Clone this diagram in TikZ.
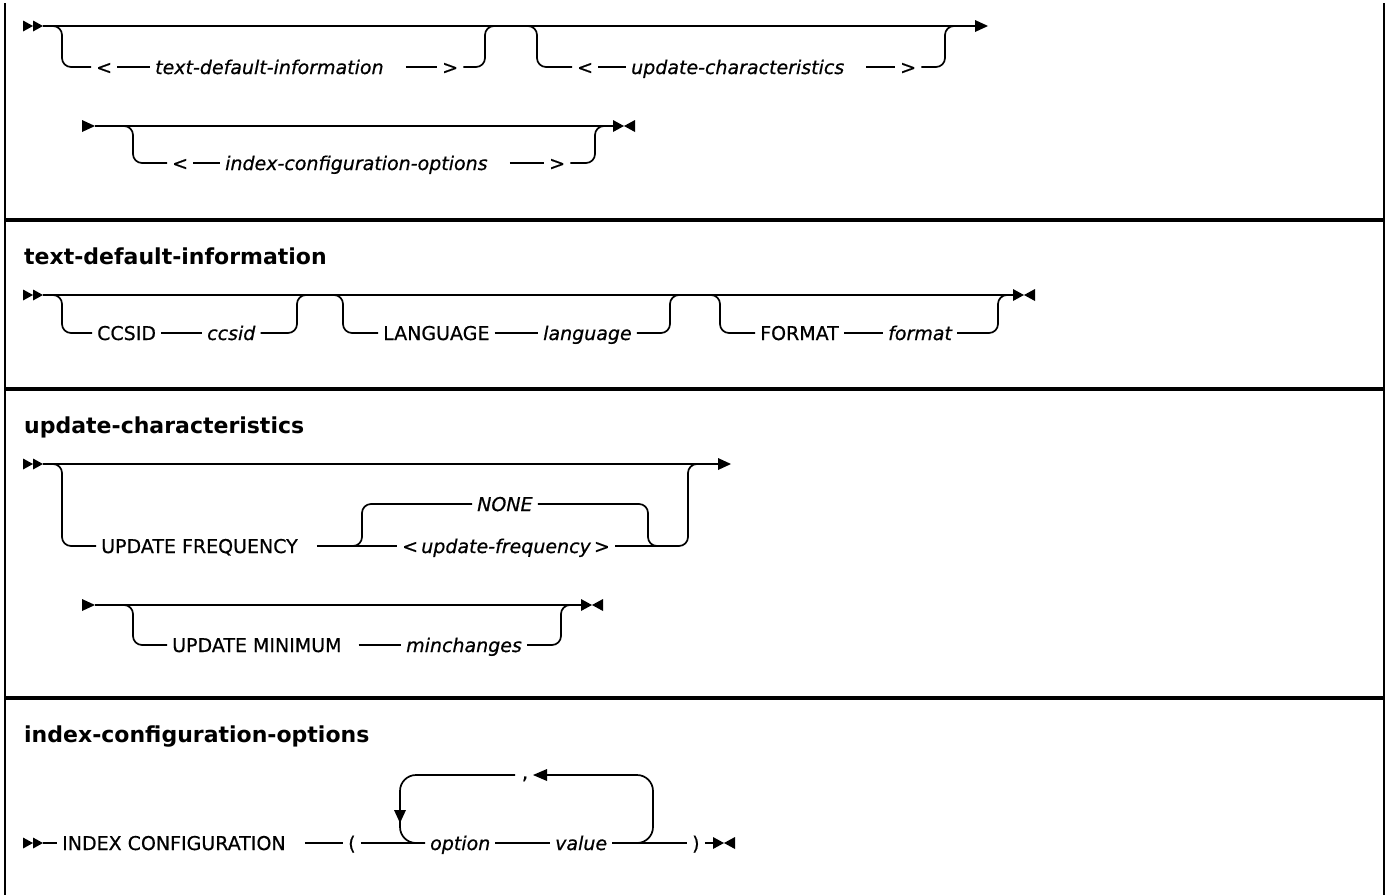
\documentclass[tikz,border=0pt]{standalone}
\usepackage{fontspec}
\setmainfont{DejaVu Sans}
\newfontfamily\rrfont[FakeBold=0.6]{DejaVu Sans}
\newcommand\rrstart[2]{\fill (#1,#2-5.5) -- (#1+10,#2) -- (#1,#2+5.5) -- cycle; \fill (#1+10,#2-5.5) -- (#1+20,#2) -- (#1+10,#2+5.5) -- cycle;}
\newcommand\rrtri[2]{\fill (#1,#2-6) -- (#1+13,#2) -- (#1,#2+6) -- cycle;}
\newcommand\rrend[2]{\fill (#1,#2-6) -- (#1+11,#2) -- (#1,#2+6) -- cycle; \fill (#1+22,#2-6) -- (#1+11,#2) -- (#1+22,#2+6) -- cycle;}
\newcommand\rrleft[2]{\fill (#1,#2) -- (#1+14,#2-6) -- (#1+14,#2+6) -- cycle;}
\newcommand\rrdown[2]{\fill (#1,#2) -- (#1-6,#2-13) -- (#1+6,#2-13) -- cycle;}
\begin{document}
\begin{tikzpicture}[x=1pt,y=-1pt,
  rail/.style={line width=1.7pt},
  rc/.style={rail,rounded corners=9pt},
  rcl/.style={rail,rounded corners=16pt},
  lbl/.style={font=\rrfont\fontsize{19}{22}\selectfont, inner xsep=5pt, inner ysep=0pt, text height=14pt, text depth=0pt, anchor=west},
  var/.style={lbl, font=\rrfont\fontsize{19}{22}\selectfont\itshape},
  hd/.style={font=\fontsize{22}{26}\selectfont\bfseries, anchor=base west, inner sep=0pt},
  sepline/.style={line width=3.5pt},
  frame/.style={line width=2.4pt}]
\useasboundingbox (0,0) rectangle (1389,895);
% frame
\coordinate (tl) at (5,3); \coordinate (bl) at (5,895);
\coordinate (tr) at (1384,3); \coordinate (br) at (1384,895);
\draw[frame] (tl) -- (bl);
\draw[frame] (tr) -- (br);
\coordinate (s1l) at (5,220); \coordinate (s1r) at (1384,220);
\coordinate (s2l) at (5,389); \coordinate (s2r) at (1384,389);
\coordinate (s3l) at (5,698); \coordinate (s3r) at (1384,698);
\draw[sepline] (s1l) -- (s1r);
\draw[sepline] (s2l) -- (s2r);
\draw[sepline] (s3l) -- (s3r);

% ===== Section 1 =====
\rrstart{23}{26}
\coordinate (m1a) at (43,26); \coordinate (m1b) at (975,26);
\draw[rail] (m1a) -- (m1b);
\rrtri{975}{26}
\node[lbl] (lt1) at (91,67) {\textless};
\node[var] (n1) at (150,67) {text-default-information\kern17pt};
\node[lbl] (gt1) at (437,67) {\textgreater};
\draw[rc] (52,26) -- (62,26) -- (62,67) -- (lt1.west);
\draw[rail] (lt1.east) -- (n1.west);
\draw[rail] (n1.east) -- (gt1.west);
\draw[rc] (gt1.east) -- (485,67) -- (485,26) -- (495,26);
\node[lbl] (lt2) at (572,67) {\textless};
\node[var] (n2) at (626,67) {update-characteristics\kern17pt};
\node[lbl] (gt2) at (895,67) {\textgreater};
\draw[rc] (527,26) -- (537,26) -- (537,67) -- (lt2.west);
\draw[rail] (lt2.east) -- (n2.west);
\draw[rail] (n2.east) -- (gt2.west);
\draw[rc] (gt2.east) -- (945,67) -- (945,26) -- (955,26);
% row 2
\rrtri{82}{126}
\coordinate (m2a) at (95,126); \coordinate (m2b) at (613,126);
\draw[rail] (m2a) -- (m2b);
\rrend{613}{126}
\node[lbl] (lt3) at (167,163) {\textless};
\node[var] (n3) at (220,163) {index-configuration-options\kern17pt};
\node[lbl] (gt3) at (544,163) {\textgreater};
\draw[rc] (123,126) -- (133,126) -- (133,163) -- (lt3.west);
\draw[rail] (lt3.east) -- (n3.west);
\draw[rail] (n3.east) -- (gt3.west);
\draw[rc] (gt3.east) -- (595,163) -- (595,126) -- (605,126);

% ===== Section 2 =====
\node[hd] (h2) at (24,264) {text-default-information};
\rrstart{23}{295}
\coordinate (m3a) at (43,295); \coordinate (m3b) at (1013,295);
\draw[rail] (m3a) -- (m3b);
\rrend{1013}{295}
\node[lbl] (ccs) at (92,333) {CCSID};
\node[var] (ccsv) at (202,333) {ccsid};
\draw[rc] (52,295) -- (62,295) -- (62,333) -- (ccs.west);
\draw[rail] (ccs.east) -- (ccsv.west);
\draw[rc] (ccsv.east) -- (297,333) -- (297,295) -- (307,295);
\node[lbl] (lang) at (378,333) {LANGUAGE};
\node[var] (langv) at (538,333) {language};
\draw[rc] (333,295) -- (343,295) -- (343,333) -- (lang.west);
\draw[rail] (lang.east) -- (langv.west);
\draw[rc] (langv.east) -- (670,333) -- (670,295) -- (680,295);
\node[lbl] (fmt) at (755,333) {FORMAT};
\node[var] (fmtv) at (883,333) {format};
\draw[rc] (710,295) -- (720,295) -- (720,333) -- (fmt.west);
\draw[rail] (fmt.east) -- (fmtv.west);
\draw[rc] (fmtv.east) -- (998,333) -- (998,295) -- (1008,295);

% ===== Section 3 =====
\node[hd] (h3) at (24,433) {update-characteristics};
\rrstart{23}{464}
\coordinate (m4a) at (43,464); \coordinate (m4b) at (718,464);
\draw[rail] (m4a) -- (m4b);
\rrtri{718}{464}
\node[lbl] (uf) at (96,546) {UPDATE FREQUENCY\kern14pt};
\node[var] (none) at (472,504) {NONE};
\node[var] (upd) at (397,546) {\textless\,update-frequency\,\textgreater};
\draw[rc] (52,464) -- (62,464) -- (62,546) -- (uf.west);
\draw[rail] (uf.east) -- (upd.west);
\draw[rc] (350,546) -- (362,546) -- (362,504) -- (none.west);
\draw[rc] (none.east) -- (648,504) -- (648,546) -- (660,546);
\draw[rc] (upd.east) -- (688,546) -- (688,464) -- (698,464);
% row 2
\rrtri{82}{605}
\coordinate (m5a) at (95,605); \coordinate (m5b) at (581,605);
\draw[rail] (m5a) -- (m5b);
\rrend{581}{605}
\node[lbl] (um) at (167,645) {UPDATE MINIMUM\kern12pt};
\node[var] (mc) at (401,645) {minchanges};
\draw[rc] (123,605) -- (133,605) -- (133,645) -- (um.west);
\draw[rail] (um.east) -- (mc.west);
\draw[rc] (mc.east) -- (561,645) -- (561,605) -- (571,605);

% ===== Section 4 =====
\node[hd] (h4) at (24,742) {index-configuration-options};
\rrstart{23}{843}
\coordinate (m6a) at (43,843);
\node[lbl] (ic) at (57,843) {INDEX CONFIGURATION\kern14pt};
\node[lbl] (lp) at (343,843) {(};
\node[var] (opt) at (425,843) {option};
\node[var] (val) at (550,843) {value};
\node[lbl] (rp) at (687,843) {)};
\coordinate (m6b) at (713,843);
\draw[rail] (m6a) -- (ic.west);
\draw[rail] (ic.east) -- (lp.west);
\draw[rail] (lp.east) -- (opt.west);
\draw[rail] (opt.east) -- (val.west);
\draw[rail] (val.east) -- (rp.west);
\draw[rail] (rp.east) -- (m6b);
\rrend{713}{843}
\node[font=\rrfont\fontsize{20}{22}\selectfont, inner sep=0pt, anchor=base] (cm) at (525,779) {,};
\draw[rcl] (630,843) -- (653,843) -- (653,775) -- (547,775);
\rrleft{533}{775}
\draw[rcl] (515,775) -- (400,775) -- (400,843) -- (425,843);
\rrdown{400}{823}
\end{tikzpicture}
\end{document}
